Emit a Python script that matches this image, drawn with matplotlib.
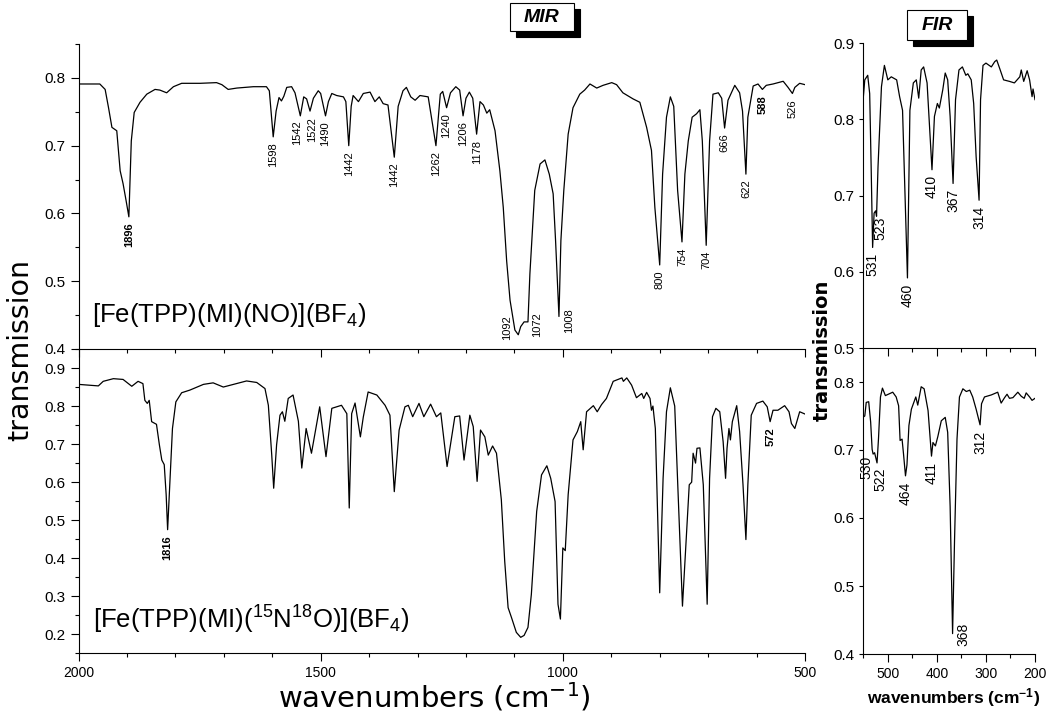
import numpy as np
import matplotlib.pyplot as plt
from matplotlib.patches import Rectangle
from matplotlib.ticker import MultipleLocator, FormatStrFormatter

plt.rcParams['font.family'] = ['Liberation Sans', 'DejaVu Sans']
plt.rcParams['mathtext.fontset'] = 'custom'
plt.rcParams['mathtext.rm'] = 'Liberation Sans'
plt.rcParams['mathtext.it'] = 'Liberation Sans:italic'
plt.rcParams['mathtext.bf'] = 'Liberation Sans:bold'

# ---- MIR spectrum, [Fe(TPP)(MI)(NO)](BF4) ----
mir_no_wn = [2000, 1956, 1945, 1938, 1931, 1921, 1914, 1908, 1902, 1896, 1891, 1885, 1873, 1859,
             1842, 1832, 1818, 1804, 1787, 1749, 1715, 1704, 1691, 1673, 1639, 1612, 1606, 1598,
             1592, 1586, 1581, 1576, 1570, 1560, 1553, 1542, 1535, 1529, 1522, 1515, 1505, 1500,
             1490, 1484, 1477, 1467, 1453, 1448, 1442, 1437, 1433, 1422, 1412, 1398, 1388, 1379,
             1371, 1361, 1348, 1340, 1330, 1323, 1314, 1305, 1295, 1278, 1262, 1253, 1248, 1240,
             1232, 1221, 1213, 1206, 1200, 1193, 1186, 1178, 1171, 1164, 1157, 1151, 1140, 1130,
             1123, 1116, 1109, 1099, 1092, 1087, 1080, 1072, 1068, 1058, 1047, 1037, 1028, 1020,
             1015, 1008, 1004, 998, 989, 979, 965, 955, 944, 930, 917, 899, 889, 876, 855, 841,
             827, 817, 810, 800, 794, 786, 778, 771, 763, 754, 748, 741, 733, 724, 717, 712, 704,
             697, 690, 679, 672, 666, 659, 645, 635, 629, 622, 618, 607, 597, 588, 580, 566, 545,
             535, 526, 521, 511, 500]
mir_no_tr = [0.791, 0.791, 0.783, 0.756, 0.727, 0.722, 0.663, 0.644, 0.620, 0.595, 0.707, 0.749,
             0.764, 0.776, 0.783, 0.782, 0.778, 0.787, 0.792, 0.792, 0.793, 0.790, 0.783, 0.785,
             0.787, 0.787, 0.781, 0.713, 0.751, 0.771, 0.766, 0.773, 0.786, 0.787, 0.778, 0.744,
             0.772, 0.769, 0.751, 0.770, 0.781, 0.777, 0.744, 0.765, 0.777, 0.774, 0.772, 0.765,
             0.700, 0.758, 0.774, 0.765, 0.777, 0.779, 0.765, 0.772, 0.762, 0.760, 0.683, 0.758,
             0.781, 0.786, 0.772, 0.767, 0.774, 0.772, 0.700, 0.776, 0.780, 0.756, 0.778, 0.787,
             0.782, 0.744, 0.770, 0.779, 0.770, 0.717, 0.765, 0.760, 0.748, 0.753, 0.722, 0.663,
             0.609, 0.530, 0.472, 0.428, 0.421, 0.433, 0.440, 0.440, 0.511, 0.634, 0.673, 0.679,
             0.658, 0.629, 0.560, 0.448, 0.560, 0.634, 0.717, 0.756, 0.776, 0.782, 0.791, 0.785,
             0.789, 0.793, 0.790, 0.778, 0.769, 0.764, 0.727, 0.693, 0.609, 0.524, 0.658, 0.742,
             0.772, 0.758, 0.634, 0.558, 0.658, 0.707, 0.742, 0.747, 0.753, 0.707, 0.553, 0.707,
             0.776, 0.778, 0.770, 0.726, 0.767, 0.789, 0.778, 0.751, 0.658, 0.742, 0.788, 0.791,
             0.783, 0.789, 0.791, 0.795, 0.786, 0.777, 0.786, 0.792, 0.790]

# ---- MIR spectrum, [Fe(TPP)(MI)(15N18O)](BF4) ----
mir_iso_wn = [2000, 1959, 1949, 1928, 1908, 1890, 1877, 1867, 1863, 1858, 1854, 1849, 1839, 1833,
              1828, 1823, 1819, 1816, 1811, 1806, 1799, 1787, 1770, 1742, 1722, 1701, 1680, 1653,
              1632, 1615, 1608, 1601, 1597, 1591, 1584, 1579, 1574, 1567, 1557, 1546, 1539, 1530,
              1519, 1502, 1489, 1477, 1457, 1446, 1441, 1436, 1429, 1418, 1412, 1402, 1384, 1367,
              1357, 1348, 1338, 1326, 1319, 1310, 1297, 1287, 1273, 1261, 1252, 1239, 1223, 1213,
              1204, 1192, 1185, 1177, 1170, 1161, 1154, 1145, 1137, 1127, 1120, 1113, 1106, 1096,
              1087, 1080, 1072, 1065, 1054, 1044, 1033, 1025, 1016, 1010, 1005, 1000, 995, 989,
              979, 970, 963, 958, 951, 937, 929, 920, 910, 896, 878, 875, 868, 858, 848, 837, 833,
              827, 820, 817, 814, 809, 800, 793, 786, 778, 769, 762, 753, 746, 739, 734, 731, 726,
              723, 717, 710, 702, 697, 691, 684, 676, 669, 664, 661, 657, 654, 650, 641, 635, 628,
              622, 618, 611, 600, 587, 578, 572, 566, 556, 542, 533, 528, 521, 514, 511, 500]
mir_iso_tr = [0.857, 0.853, 0.865, 0.872, 0.870, 0.852, 0.865, 0.859, 0.815, 0.807, 0.815, 0.759,
              0.752, 0.698, 0.658, 0.646, 0.567, 0.475, 0.610, 0.741, 0.811, 0.835, 0.842, 0.857,
              0.861, 0.850, 0.857, 0.866, 0.862, 0.846, 0.802, 0.671, 0.584, 0.698, 0.776, 0.785,
              0.760, 0.820, 0.829, 0.760, 0.637, 0.741, 0.676, 0.798, 0.667, 0.794, 0.802, 0.780,
              0.532, 0.780, 0.808, 0.719, 0.771, 0.837, 0.829, 0.802, 0.776, 0.575, 0.737, 0.798,
              0.802, 0.772, 0.807, 0.772, 0.805, 0.772, 0.782, 0.641, 0.772, 0.774, 0.658, 0.776,
              0.746, 0.602, 0.737, 0.719, 0.671, 0.695, 0.676, 0.554, 0.392, 0.270, 0.244, 0.205,
              0.192, 0.197, 0.218, 0.305, 0.523, 0.619, 0.643, 0.610, 0.549, 0.279, 0.240, 0.427,
              0.420, 0.567, 0.711, 0.733, 0.759, 0.685, 0.785, 0.801, 0.785, 0.804, 0.820, 0.865,
              0.874, 0.865, 0.874, 0.855, 0.822, 0.833, 0.820, 0.836, 0.820, 0.789, 0.800, 0.741,
              0.309, 0.610, 0.785, 0.848, 0.800, 0.567, 0.274, 0.436, 0.593, 0.600, 0.676, 0.650,
              0.689, 0.690, 0.593, 0.279, 0.610, 0.772, 0.794, 0.785, 0.706, 0.610, 0.689, 0.741,
              0.711, 0.759, 0.801, 0.733, 0.593, 0.449, 0.593, 0.776, 0.807, 0.813, 0.798, 0.759,
              0.789, 0.789, 0.801, 0.785, 0.754, 0.741, 0.772, 0.785, 0.779]

# ---- FIR spectra ----
fir_no_wn = [551, 547, 541, 537, 534, 531, 528, 525, 523, 520, 513, 507, 500, 493, 482, 476, 470,
             460, 455, 448, 442, 437, 432, 427, 420, 410, 405, 399, 395, 388, 383, 378, 373, 367,
             362, 355, 348, 341, 337, 330, 325, 320, 314, 311, 306, 300, 289, 282, 278, 272, 264,
             252, 242, 231, 228, 223, 216, 211, 206, 204, 200]
fir_no_tr = [0.821, 0.852, 0.858, 0.834, 0.738, 0.632, 0.677, 0.680, 0.673, 0.738, 0.843, 0.871,
             0.852, 0.856, 0.852, 0.830, 0.812, 0.592, 0.812, 0.848, 0.852, 0.828, 0.865, 0.869,
             0.848, 0.734, 0.804, 0.821, 0.815, 0.839, 0.861, 0.852, 0.804, 0.716, 0.826, 0.865,
             0.869, 0.858, 0.860, 0.852, 0.821, 0.751, 0.694, 0.826, 0.871, 0.874, 0.869, 0.876,
             0.878, 0.867, 0.852, 0.850, 0.848, 0.856, 0.865, 0.850, 0.864, 0.852, 0.830, 0.840,
             0.826]

fir_iso_wn = [551, 547, 544, 539, 535, 532, 530, 527, 522, 519, 515, 511, 505, 496, 490, 483, 478,
              475, 471, 468, 464, 461, 457, 452, 443, 439, 432, 426, 418, 411, 408, 403, 398, 391,
              383, 378, 373, 368, 364, 359, 354, 347, 340, 333, 327, 320, 312, 309, 303, 289, 276,
              269, 262, 257, 252, 245, 235, 228, 222, 218, 211, 206, 200]
fir_iso_tr = [0.748, 0.750, 0.770, 0.771, 0.741, 0.701, 0.694, 0.696, 0.681, 0.717, 0.778, 0.791,
              0.780, 0.783, 0.785, 0.778, 0.765, 0.714, 0.716, 0.694, 0.662, 0.678, 0.736, 0.760,
              0.778, 0.766, 0.793, 0.790, 0.758, 0.691, 0.711, 0.706, 0.720, 0.743, 0.748, 0.726,
              0.617, 0.430, 0.568, 0.716, 0.778, 0.790, 0.786, 0.788, 0.778, 0.760, 0.737, 0.768,
              0.778, 0.781, 0.785, 0.769, 0.777, 0.782, 0.776, 0.777, 0.785, 0.779, 0.776, 0.784,
              0.778, 0.773, 0.776]

# ---- band assignments (position, printed text) ----
mir_no_peaks = [1896, 1598, 1542, 1522, 1490, 1442, 1348, 1262, 1240, 1206, 1178, 1092, 1072,
                1008, 800, 754, 704, 666, 622, 588, 526]
mir_no_text = ['1896', '1598', '1542', '1522', '1490', '1442', '1442', '1262', '1240', '1206',
               '1178', '1092', '1072', '1008', '800', '754', '704', '666', '622', '588', '526']
mir_iso_peaks = [1816, 572]
mir_iso_text = ['1816', '572']
fir_no_peaks = [531, 523, 460, 410, 367, 314]
fir_no_text = ['531', '523', '460', '410', '367', '314']
fir_iso_peaks = [530, 522, 464, 411, 368, 312]
fir_iso_text = ['530', '522', '464', '411', '368', '312']

W, H = 1047, 712
fig = plt.figure(figsize=(W / 100, H / 100), dpi=100)


def axes_px(x0, y0, x1, y1):
    return fig.add_axes([x0 / W, 1 - y1 / H, (x1 - x0) / W, (y1 - y0) / H])


def style(ax, xlim, ylim, xmaj, xmin, ymin_step, show_x, size, ylen):
    ax.set_xlim(*xlim)
    ax.set_ylim(*ylim)
    for s in ('top', 'right'):
        ax.spines[s].set_visible(False)
    ax.xaxis.set_major_locator(MultipleLocator(xmaj))
    ax.xaxis.set_minor_locator(MultipleLocator(xmin))
    ax.yaxis.set_major_locator(MultipleLocator(0.1))
    if ymin_step:
        ax.yaxis.set_minor_locator(MultipleLocator(ymin_step))
    ax.yaxis.set_major_formatter(FormatStrFormatter('%.1f'))
    ax.tick_params(which='major', direction='out', length=6, width=0.8, labelsize=size)
    ax.tick_params(which='minor', direction='out', length=3, width=0.8)
    ax.tick_params(axis='y', which='major', length=ylen)
    ax.tick_params(axis='x', labelbottom=show_x, labelsize=size - 1)
    ax.patch.set_alpha(0)


def label_peaks(ax, wn, tr, peaks, texts, size, bold=(), shifts=None):
    shifts = shifts or {}
    for i, (p, t) in enumerate(zip(peaks, texts)):
        y = np.interp(p, wn[::-1], tr[::-1])
        dx, dy, va = shifts.get(i, (0, -4, 'top'))
        ax.annotate(t, (p, y), xytext=(dx, dy), textcoords='offset points',
                    rotation=90, ha='center', va=va, fontsize=size,
                    fontweight='bold' if t in bold else 'normal')


# MIR, top
ax1 = axes_px(78.5, 44, 805, 349)
ax1.plot(mir_no_wn, mir_no_tr, color='black', lw=0.9)
style(ax1, (2000, 500), (0.4, 0.85), 500, 100, 0.05, False, 11, 6)
label_peaks(ax1, mir_no_wn, mir_no_tr, mir_no_peaks, mir_no_text, 8, bold=('1896', '588'),
            shifts={2: (-2, -3, 'top'), 3: (1.5, -4, 'top'),
                    11: (-8, -4, 'bottom'), 12: (6.5, -11, 'bottom'), 13: (7, -12, 'bottom')})
ax1.text(0.019, 0.09, r'[Fe(TPP)(MI)(NO)](BF$_{\mathregular{4}}$)', transform=ax1.transAxes,
         fontsize=18.5, va='baseline')

# MIR, bottom
ax2 = axes_px(78.5, 349, 805, 653.3)
ax2.plot(mir_iso_wn, mir_iso_tr, color='black', lw=0.9)
style(ax2, (2000, 500), (0.15, 0.95), 500, 100, 0.05, True, 11, 6)
label_peaks(ax2, mir_iso_wn, mir_iso_tr, mir_iso_peaks, mir_iso_text, 8, bold=('1816', '572'))
ax2.text(0.02, 0.08, r'[Fe(TPP)(MI)($^{\mathregular{15}}$N$^{\mathregular{18}}$O)](BF$_{\mathregular{4}}$)',
         transform=ax2.transAxes, fontsize=18.5, va='baseline')

# FIR, top
ax3 = axes_px(863.3, 43.3, 1035, 348)
ax3.plot(fir_no_wn, fir_no_tr, color='black', lw=0.9)
style(ax3, (550, 200), (0.5, 0.9), 100, 50, None, False, 11, 3)
label_peaks(ax3, fir_no_wn, fir_no_tr, fir_no_peaks, fir_no_text, 10,
            shifts={1: (3, 0, 'top')})

# FIR, bottom
ax4 = axes_px(863.3, 348, 1035, 654)
ax4.plot(fir_iso_wn, fir_iso_tr, color='black', lw=0.9)
style(ax4, (550, 200), (0.4, 0.85), 100, 50, None, True, 11, 3)
label_peaks(ax4, fir_iso_wn, fir_iso_tr, fir_iso_peaks, fir_iso_text, 10,
            shifts={0: (-5, -1, 'top'), 1: (2.5, -3, 'top'), 4: (8, 7.5, 'top')})

# shared axis titles
fig.text(20 / W, 1 - 350 / H, 'transmission', rotation=90, ha='center', va='center',
         fontsize=20.5, family='DejaVu Sans')
fig.text(434 / W, 1 - 697 / H, r'wavenumbers (cm$^{\mathregular{-1}}$)', ha='center', va='center',
         fontsize=21, family='DejaVu Sans')
fig.text(822 / W, 1 - 350 / H, 'transmission', rotation=90, ha='center', va='center',
         fontsize=14, fontweight='bold', family='DejaVu Sans')
fig.text(954 / W, 1 - 698 / H, r'wavenumbers (cm$^{\mathbf{-1}}$)', ha='center', va='center',
         fontsize=12.5, fontweight='bold')


# region tags with drop shadow
def tag(text, x0, y0, w, h):
    fig.add_artist(Rectangle(((x0 + 6) / W, 1 - (y0 + h + 6) / H), w / W, h / H,
                             transform=fig.transFigure, facecolor='black', edgecolor='black',
                             lw=0.8))
    fig.add_artist(Rectangle((x0 / W, 1 - (y0 + h) / H), w / W, h / H, transform=fig.transFigure,
                             facecolor='white', edgecolor='black', lw=0.8))
    fig.text((x0 + w / 2) / W, 1 - (y0 + h / 2) / H, text, ha='center', va='center',
             fontsize=14, fontweight='bold', fontstyle='italic')


tag('MIR', 510, 3, 64, 28)
tag('FIR', 907, 10, 60, 30)

fig.savefig('out.png', dpi=100)
